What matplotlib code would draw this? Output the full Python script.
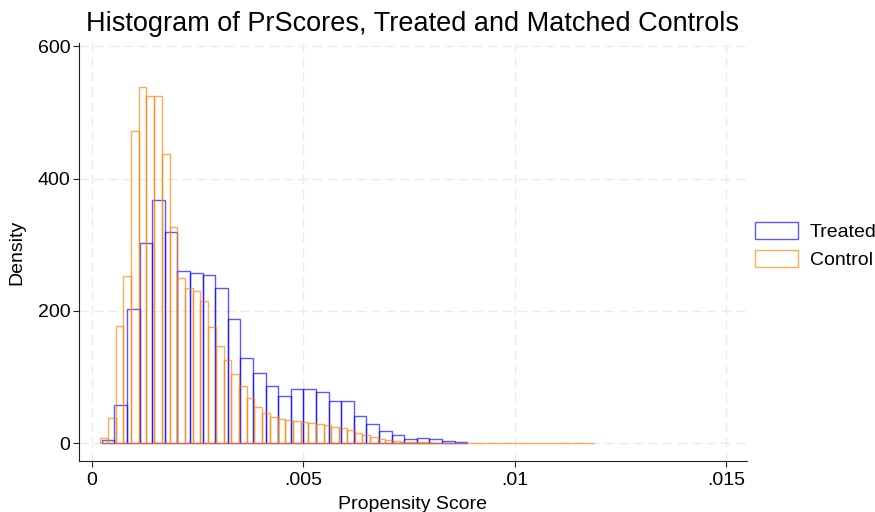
import numpy as np
import matplotlib.pyplot as plt

plt.rcParams['font.family'] = ['Liberation Sans', 'DejaVu Sans']

# Bin layout of the two histograms (first edge, bin width)
treated_start, treated_width = 0.00023, 0.000298
control_start, control_width = 0.00019, 0.0001824

# Densities per bin
treated_density = [4.5, 57, 203, 302, 368, 319, 261, 257, 254, 234,
                   188, 128, 106, 87, 71, 82, 82, 77, 63, 64,
                   41, 29, 19, 12.5, 6.5, 8, 6, 2.5, 1.5]
control_density = [7.5, 38, 177, 252, 472, 539, 525, 525, 437, 327,
                   249, 234, 230, 215, 175, 147, 125, 105, 87, 68,
                   54, 46, 40, 36, 35, 33, 32, 31, 29, 27,
                   25, 23, 20, 15.5, 13, 9, 6.5, 4.5, 3.5, 2,
                   1.5, 1.2, 1.0, 0.8, 0.7, 0.6, 0.5, 0.5, 0.4, 0.4,
                   0.3, 0.3, 0.3, 0.3, 0.2, 0.2, 0.2, 0.2, 0.2, 0.2,
                   0.2, 0.2, 0.2, 0.2]

x_ticks = [0, 0.005, 0.01, 0.015]
x_ticklabels = ['0', '.005', '.01', '.015']
y_ticks = [0, 200, 400, 600]

fig = plt.figure(figsize=(8.75, 5.12), dpi=100)
ax = fig.add_axes([0.0898, 0.0996, 0.7639, 0.8164])

treated_left = treated_start + treated_width * np.arange(len(treated_density))
control_left = control_start + control_width * np.arange(len(control_density))

ax.bar(treated_left, treated_density, width=treated_width, align='edge',
       facecolor='none', edgecolor=(0, 0, 1, 0.65), linewidth=1.0,
       label='Treated', zorder=2)
ax.bar(control_left, control_density, width=control_width, align='edge',
       facecolor='none', edgecolor=(1, 0.5, 0, 0.65), linewidth=1.0,
       label='Control', zorder=3)

ax.set_xlim(-0.00032, 0.01549)
ax.set_ylim(-27, 605)
ax.set_xticks(x_ticks)
ax.set_xticklabels(x_ticklabels)
ax.set_yticks(y_ticks)

ax.set_axisbelow(True)
ax.grid(True, color='#ebebeb', linestyle=(0, (7, 3.5)), linewidth=1)

for side in ['top', 'right']:
    ax.spines[side].set_visible(False)
for side in ['left', 'bottom']:
    ax.spines[side].set_color('#222222')
    ax.spines[side].set_linewidth(0.8)

ax.tick_params(axis='both', length=4, width=0.8, colors='#222222',
               labelcolor='black', labelsize=14)
ax.tick_params(axis='x', pad=4)
ax.tick_params(axis='y', pad=2)

ax.set_xlabel('Propensity Score', fontsize=14, labelpad=5)
ax.set_ylabel('Density', fontsize=14, labelpad=9)
ax.set_title('Histogram of PrScores, Treated and Matched Controls',
             fontsize=19.5, pad=9)

ax.legend(loc='center left', bbox_to_anchor=(1.0, 0.515), frameon=False,
          fontsize=14, handlelength=2.2, handleheight=0.95,
          handletextpad=0.63, labelspacing=0.45, borderaxespad=0)

fig.savefig('out.png', dpi=100)
